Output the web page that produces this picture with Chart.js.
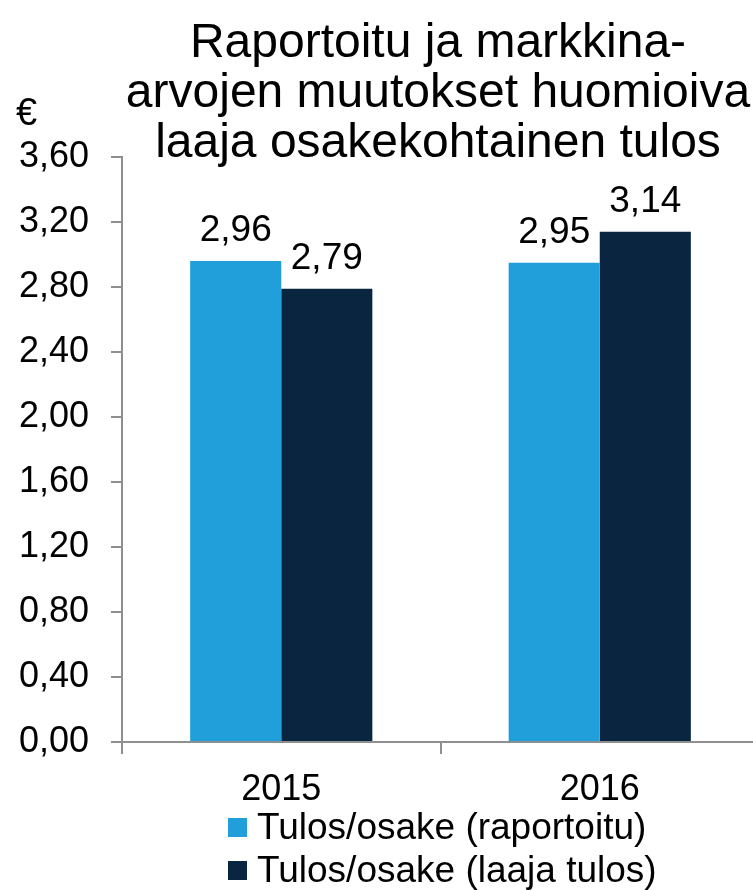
<!DOCTYPE html>
<html lang="fi">
<head>
    <meta charset="UTF-8">
    <title>Raportoitu ja markkina-arvojen muutokset huomioiva laaja osakekohtainen tulos</title>
    <script src="https://cdn.jsdelivr.net/npm/chart.js"></script>
    <style>
        html, body {
            margin: 0;
            padding: 0;
            background: #ffffff;
            overflow: hidden;
        }
        .chart-wrap {
            width: 760px;
            height: 890px;
        }
    </style>
</head>
<body>
<div class="chart-wrap">
    <canvas id="epsChart" width="760" height="890"></canvas>
</div>
<script>
    // Chart data
    const years = ['2015', '2016'];
    const reported = [2.96, 2.95];
    const comprehensive = [2.79, 3.14];
    const seriesNames = ['Tulos/osake (raportoitu)', 'Tulos/osake (laaja tulos)'];
    const titleLines = ['Raportoitu ja markkina-', 'arvojen muutokset huomioiva', 'laaja osakekohtainen tulos'];
    const unitLabel = '€';

    const FONT = '"Liberation Sans", Arial, sans-serif';
    const AXIS_GREY = '#8f8f8f';

    function fiNumber(v) {
        return v.toFixed(2).replace('.', ',');
    }

    // Title, unit, value labels and legend drawn on the canvas
    const decorations = {
        id: 'decorations',
        afterDatasetsDraw(chart) {
            const ctx = chart.ctx;
            ctx.save();
            ctx.fillStyle = '#000';

            // value labels above bars
            ctx.font = '37px ' + FONT;
            ctx.textAlign = 'center';
            ctx.textBaseline = 'alphabetic';
            chart.data.datasets.forEach((ds, i) => {
                chart.getDatasetMeta(i).data.forEach((bar, j) => {
                    ctx.fillText(fiNumber(ds.data[j]), bar.x, bar.y - 20);
                });
            });

            // title
            ctx.font = '48px ' + FONT;
            titleLines.forEach((line, i) => {
                ctx.fillText(line, 438, 57 + i * 50);
            });

            // unit
            ctx.textAlign = 'left';
            ctx.font = '38px ' + FONT;
            ctx.fillText(unitLabel, 16, 125);

            // legend
            ctx.font = '37px ' + FONT;
            ctx.textBaseline = 'middle';
            chart.data.datasets.forEach((ds, i) => {
                const cy = 828 + i * 43;
                ctx.fillStyle = ds.backgroundColor;
                ctx.fillRect(228, cy - 10, 19, 19);
                ctx.fillStyle = '#000';
                ctx.fillText(ds.label, 257, cy + 1);
            });
            ctx.restore();
        }
    };

    const ctx = document.getElementById('epsChart').getContext('2d');
    new Chart(ctx, {
        type: 'bar',
        data: {
            labels: years,
            datasets: [
                {
                    label: seriesNames[0],
                    data: reported,
                    backgroundColor: '#209FDB',
                    categoryPercentage: 0.572,
                    barPercentage: 1
                },
                {
                    label: seriesNames[1],
                    data: comprehensive,
                    backgroundColor: '#0A2540',
                    categoryPercentage: 0.572,
                    barPercentage: 1
                }
            ]
        },
        options: {
            responsive: false,
            animation: false,
            devicePixelRatio: 1,
            layout: {
                padding: { left: 0, top: 157, right: 1, bottom: 0 }
            },
            plugins: {
                legend: { display: false },
                title: { display: false },
                tooltip: { enabled: false }
            },
            scales: {
                x: {
                    afterFit(scale) { scale.height = 148; },
                    grid: {
                        drawOnChartArea: false,
                        drawTicks: true,
                        tickLength: 12,
                        color: AXIS_GREY,
                        lineWidth: 2
                    },
                    border: { color: AXIS_GREY, width: 2 },
                    ticks: {
                        color: '#000',
                        padding: 14,
                        font: { family: FONT, size: 36 }
                    }
                },
                y: {
                    min: 0,
                    max: 3.6,
                    afterFit(scale) { scale.width = 122; },
                    grid: {
                        drawOnChartArea: false,
                        drawTicks: true,
                        tickLength: 11,
                        color: AXIS_GREY,
                        lineWidth: 2
                    },
                    border: { color: AXIS_GREY, width: 2 },
                    ticks: {
                        stepSize: 0.4,
                        color: '#000',
                        padding: 22,
                        font: { family: FONT, size: 36 },
                        callback: (v) => fiNumber(v)
                    }
                }
            }
        },
        plugins: [decorations]
    });
</script>
</body>
</html>
